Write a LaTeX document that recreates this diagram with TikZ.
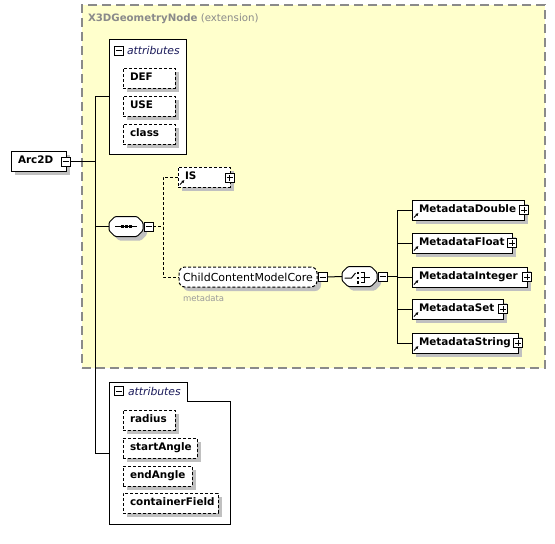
\documentclass[tikz,border=0pt]{standalone}
\usepackage{fontspec}
\setmainfont{DejaVu Sans}
\usetikzlibrary{shadows,arrows.meta}
\definecolor{regfill}{HTML}{FFFFCC}
\definecolor{reggray}{HTML}{8A8A8A}
\definecolor{shad}{HTML}{C0C0C0}
\definecolor{metagray}{HTML}{9A9A9A}
\definecolor{headblue}{HTML}{1A1A5A}
\tikzset{
  base/.style={inner sep=0pt, outer sep=0pt, line width=1pt},
  shd/.style={general shadow={fill=shad, shadow xshift=4pt, shadow yshift=-4pt}},
  elbox/.style={base, draw, fill=white, shd, anchor=north west, minimum height=20pt,
    inner xsep=7pt, align=left,
    font=\fontsize{10.4}{12}\selectfont\bfseries,
    execute at begin node={\hyphenpenalty=10000\relax},
    text height=7.8pt, text depth=2pt},
  attrbox/.style={elbox, dash pattern=on 3pt off 2pt},
  pm/.style={base, draw, fill=white, minimum size=9pt},
  plusbox/.style={pm, path picture={\draw[line width=0.9pt]
    ([xshift=-3pt]path picture bounding box.center) -- ([xshift=3pt]path picture bounding box.center)
    ([yshift=-3pt]path picture bounding box.center) -- ([yshift=3pt]path picture bounding box.center);}},
  minusbox/.style={pm, path picture={\draw[line width=0.9pt]
    ([xshift=-3pt]path picture bounding box.center) -- ([xshift=3pt]path picture bounding box.center);}},
  conn/.style={line width=1pt},
  dconn/.style={conn, dash pattern=on 3pt off 2pt},
  refarrow/.style={-{Latex[length=3pt,width=3.2pt]}, line width=1pt},
  groupframe/.style={base, minimum height=20pt},
  groupoutline/.style={conn, fill=white, shd, rounded corners=1.2pt},
  attrhead/.style={base, anchor=west, text=headblue, font=\fontsize{10.8}{12}\selectfont\itshape},
}
\newcommand{\chamferpath}[1]{%
  \draw[groupoutline] ([xshift=6pt]#1.north west) -- ([xshift=-6pt]#1.north east)
    -- ([yshift=-6pt]#1.north east) -- ([yshift=6pt]#1.south east)
    -- ([xshift=-6pt]#1.south east) -- ([xshift=6pt]#1.south west)
    -- ([yshift=6pt]#1.south west) -- ([yshift=-6pt]#1.north west) -- cycle;}
\begin{document}
\begin{tikzpicture}[x=1pt,y=-1pt]
\useasboundingbox (0,0) rectangle (555,544);

% extension region
\node[base, draw=reggray, fill=regfill, line width=1.2pt, dash pattern=on 9pt off 5pt,
  anchor=north west, minimum width=463pt, minimum height=363pt] (reg) at (82,5) {};
\node[base, anchor=west, text=reggray, font=\fontsize{10.2}{12}\selectfont] (regtitle) at (88,19)
  {\textbf{X3DGeometryNode} (extension)};

% top attributes
\node[base, draw, fill=white, anchor=north west, minimum width=77pt, minimum height=115pt] (topattr) at (109,39) {};
\node[minusbox] (topattrminus) at (119,50.5) {};
\node[attrhead] (topattrtext) at (127,50.5) {attributes};
\node[attrbox, text width=38pt] (def) at (123,68) {DEF};
\node[attrbox, text width=38pt] (use) at (123,96) {USE};
\node[attrbox, text width=38pt] (class) at (123,124) {class};

% Arc2D
\node[elbox, text width=41pt] (arc) at (11,151) {Arc2D};
\node[minusbox] (arcminus) at (65.5,161.5) {};

% bottom attributes
\node[base, anchor=north west, minimum width=121pt, minimum height=142pt] (botattr) at (109,382) {};
\draw[conn, fill=white] (botattr.north west) -- ([xshift=78pt]botattr.north west)
  -- ([xshift=78pt,yshift=-19pt]botattr.north west) -- ([yshift=-19pt]botattr.north east)
  -- (botattr.south east) -- (botattr.south west) -- cycle;
\node[minusbox] (botattrminus) at (119,391) {};
\node[attrhead] (botattrtext) at (128,391) {attributes};
\node[attrbox, text width=38pt] (radius) at (123,410) {radius};
\node[attrbox, text width=60pt] (start) at (123,438) {startAngle};
\node[attrbox, text width=55pt] (endang) at (123,466) {endAngle};
\node[attrbox, text width=81pt] (cfield) at (123,493) {containerField};

% sequence
\node[groupframe, minimum width=34pt] (seq) at (126,226.5) {};
\chamferpath{seq}
\begin{scope}[shift={(seq.center)}]
  \draw[line width=1pt] (-11,0) -- (11,0);
  \fill (-5.5,-1.5) rectangle (-2.5,1.5);
  \fill (-1.5,-1.5) rectangle (1.5,1.5);
  \fill (2.5,-1.5) rectangle (5.5,1.5);
\end{scope}
\node[minusbox] (seqminus) at (148.5,226.5) {};

% IS
\node[attrbox, text width=38pt] (is) at (178,167) {IS};
\node[plusbox] (isplus) at (229.5,177.5) {};
\draw[refarrow] ([shift={(2pt,2.5pt)}]is.south west) -- ++(4.5pt,4.5pt);

% ChildContentModelCore
\node[base, draw, fill=white, shd, rounded corners=6pt, dash pattern=on 3pt off 2pt,
  minimum width=138pt, minimum height=20pt, font=\fontsize{11}{13}\selectfont] (ccmc) at (248,277) {ChildContentModelCore};
\node[minusbox] (ccmcminus) at (322.5,277) {};
\node[base, anchor=west, text=metagray, font=\fontsize{8.5}{10}\selectfont] (metalabel) at (183,298) {metadata};

% choice
\node[groupframe, minimum width=35pt] (choice) at (359.5,276.5) {};
\chamferpath{choice}
\begin{scope}[shift={(choice.center)}]
  \draw[line width=1pt] (-15,1.5) -- (-8,1.5) -- (-4,-3.5);
  \fill (-3,-5) rectangle (-0.5,-2.5);
  \fill (-3,0) rectangle (-0.5,2.5);
  \fill (-3,4.5) rectangle (-0.5,7);
  \draw[line width=1pt] (1,-3.8) -- (5,-3.8) -- (5,5.8) -- (1,5.8);
  \draw[line width=1pt] (1,1) -- (10,1);
\end{scope}
\node[minusbox] (choiceminus) at (382.5,276.5) {};

% Metadata elements
\node[elbox, text width=98pt] (md1) at (412,200) {MetadataDouble};
\node[plusbox] (md1plus) at (md1.east) {};
\node[elbox, text width=86pt] (md2) at (412,233) {MetadataFloat};
\node[plusbox] (md2plus) at (md2.east) {};
\node[elbox, text width=101pt] (md3) at (412,267) {MetadataInteger};
\node[plusbox] (md3plus) at (md3.east) {};
\node[elbox, text width=77pt] (md4) at (412,299) {MetadataSet};
\node[plusbox] (md4plus) at (md4.east) {};
\node[elbox, text width=92pt] (md5) at (412,333) {MetadataString};
\node[plusbox] (md5plus) at (md5.east) {};
\foreach \m in {md1,md2,md3,md4,md5}{
  \draw[refarrow] ([shift={(2pt,2.5pt)}]\m.south west) -- ++(4.5pt,4.5pt);
}

% connectors
\coordinate (sp) at (95,0);
\coordinate (sp2) at (163,0);
\coordinate (sp3) at (397,0);
\draw[conn] (arcminus.east) -- (arcminus.east -| sp);
\draw[conn] (topattr.west) -- (topattr.west -| sp) -- (botattr.west -| sp) -- (botattr.west);
\draw[conn] (seq.west) -- (seq.west -| sp);
\draw[dconn] (seqminus.east) -- (seqminus.east -| sp2);
\draw[dconn] (is.west) -- (is.west -| sp2) -- (ccmc.west -| sp2) -- (ccmc.west);
\draw[conn] (ccmcminus.east) -- (choice.west);
\draw[conn] (choiceminus.east) -- (choiceminus.east -| sp3);
\draw[conn] (md1.west) -- (md1.west -| sp3) -- (md5.west -| sp3) -- (md5.west);
\draw[conn] (md2.west) -- (md2.west -| sp3);
\draw[conn] (md3.west) -- (md3.west -| sp3);
\draw[conn] (md4.west) -- (md4.west -| sp3);
\end{tikzpicture}
\end{document}
